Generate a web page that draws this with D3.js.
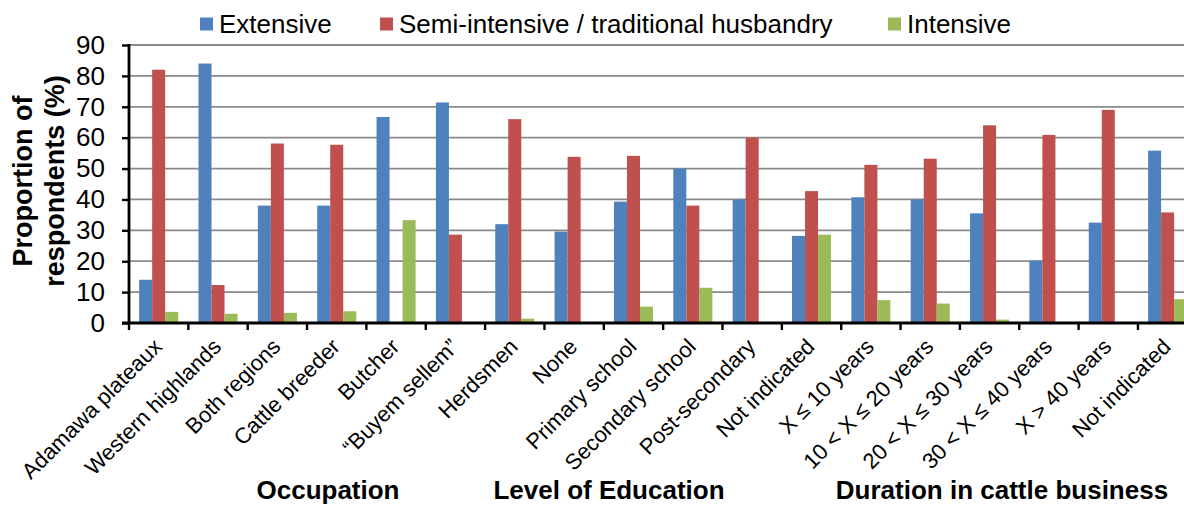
<!DOCTYPE html>
<html><head><meta charset="utf-8">
<script src="https://cdn.jsdelivr.net/npm/d3@7"></script>
<style>body{margin:0;background:#fff;}svg{display:block;font-family:"Liberation Sans",Arial,sans-serif;}</style>
</head><body>
<svg id="c" width="1184" height="506"></svg>
<script>
const categories = ["Adamawa plateaux","Western highlands","Both regions","Cattle breeder","Butcher","\u201cBuyem sellem\u201d","Herdsmen","None","Primary school","Secondary school","Post-secondary","Not indicated","X \u2264 10 years","10 < X \u2264 20 years","20 < X \u2264 30 years","30 < X \u2264 40 years","X > 40 years","Not indicated "];
const seriesNames = ["Extensive","Semi-intensive / traditional husbandry","Intensive"];
const extensive = [14,84,38,38,66.7,71.4,32,29.6,39.3,50,40,28.2,40.7,40,35.5,20.2,32.5,55.8];
const semiIntensive = [82,12.3,58.1,57.7,0,28.6,66,53.8,54.1,38,60,42.7,51.2,53.2,64,60.9,69,35.8];
const intensive = [3.6,3,3.3,3.8,33.3,0,1.4,0,5.3,11.4,0,28.6,7.4,6.3,1.1,0,0,7.7];
const yTicks = [0,10,20,30,40,50,60,70,80,90];
const groups = [{label:"Occupation",cx:328},{label:"Level of Education",cx:609},{label:"Duration in cattle business",cx:1002}];
const colors = ["#4F81BD","#C0504D","#9BBB59"];
const series = [extensive, semiIntensive, intensive];

const svg = d3.select("#c");
const x0 = 129, step = 59.35;
const x = d3.scaleBand().domain(categories).range([x0, x0 + step*categories.length]).paddingInner(0).paddingOuter(0);
const y = d3.scaleLinear().domain([0,90]).range([323,45]);
const xs = d3.scaleBand().domain(seriesNames).range([0, x.bandwidth()]).paddingInner(0).paddingOuter(0.78);

// gridlines
svg.append("g").selectAll("line").data(yTicks.filter(d=>d>0)).join("line")
  .attr("x1", x0).attr("x2", 1184).attr("y1", d=>y(d)).attr("y2", d=>y(d))
  .attr("stroke", "#8a8a8a").attr("stroke-width", 1.8);

// bars
series.forEach((vals, si) => {
  svg.append("g").selectAll("rect").data(categories).join("rect")
    .attr("x", d => x(d) + xs(seriesNames[si]))
    .attr("width", xs.bandwidth())
    .attr("y", (d,i) => y(vals[i]))
    .attr("height", (d,i) => y(0) - y(vals[i]))
    .attr("fill", colors[si]);
});

// y axis
const yAxis = d3.axisLeft(y).tickValues(yTicks).tickSize(7).tickPadding(17);
const gy = svg.append("g").attr("transform", `translate(${x0},0)`).call(yAxis);
gy.select(".domain").attr("stroke","#000").attr("stroke-width",2.8).attr("d", `M0,${y(90)-1}V${y(0)+1}`);
gy.selectAll(".tick line").attr("stroke","#000").attr("stroke-width",2.4);
gy.selectAll(".tick text").attr("font-size", 26).attr("fill","#000").attr("font-family","Liberation Sans, Arial, sans-serif");

// x axis baseline & ticks between categories
const gx = svg.append("g");
gx.append("line").attr("x1", x0-7).attr("x2", 1184).attr("y1", y(0)).attr("y2", y(0)).attr("stroke","#000").attr("stroke-width",2.8);
gx.selectAll("line.t").data(categories).join("line").attr("class","t")
  .attr("x1", d=>x(d)).attr("x2", d=>x(d)).attr("y1", y(0)).attr("y2", y(0)+7)
  .attr("stroke","#000").attr("stroke-width",2.4);
gx.selectAll("text").data(categories).join("text")
  .attr("transform", d => `translate(${x(d)+x.bandwidth()/2+4.5},${y(0)+25}) rotate(-45)`)
  .attr("text-anchor","end")
  .attr("font-size", 22).attr("fill","#000")
  .text(d => d.trim());

// group labels
svg.append("g").selectAll("text").data(groups).join("text")
  .attr("x", d=>d.cx).attr("y", 499).attr("text-anchor","middle")
  .attr("font-size", 26).attr("font-weight","bold").attr("fill","#000")
  .text(d=>d.label);

// y title
const yt = svg.append("text").attr("transform","translate(0,181) rotate(-90)")
  .attr("text-anchor","middle").attr("font-size",27).attr("font-weight","bold").attr("fill","#000");
yt.append("tspan").attr("x",0).attr("y",32).text("Proportion of");
yt.append("tspan").attr("x",0).attr("y",64).text("respondents (%)");

// legend
const legX = [200, 380, 888];
const lg = svg.append("g").selectAll("g").data(seriesNames).join("g")
  .attr("transform", (d,i)=>`translate(${legX[i]},24)`);
lg.append("rect").attr("width",13).attr("height",13).attr("y",-6.5).attr("fill",(d,i)=>colors[i]);
lg.append("text").attr("x",19).attr("y",0).attr("dy","0.35em").attr("font-size",26).attr("fill","#000").text(d=>d);
</script>
</body></html>
